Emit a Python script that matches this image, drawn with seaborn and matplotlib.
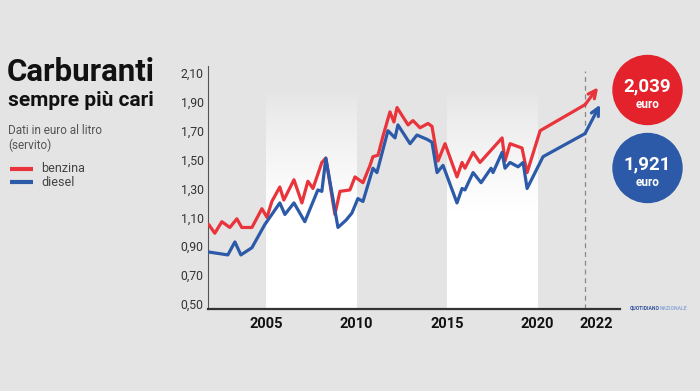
import numpy as np
import pandas as pd
import seaborn as sns
import matplotlib.pyplot as plt
from matplotlib.patches import Circle
from matplotlib.transforms import ScaledTranslation

# benzina (servito), euro/litro
anni_benzina = [2001.85, 2002.18, 2002.57, 2003.01, 2003.40, 2003.67, 2004.23, 2004.78,
                2005.06, 2005.33, 2005.77, 2005.99, 2006.55, 2006.99, 2007.32, 2007.60,
                2008.09, 2008.31, 2008.81, 2009.09, 2009.64, 2009.92, 2010.36, 2010.75,
                2010.91, 2011.19, 2011.46, 2011.85, 2012.07, 2012.24, 2012.85, 2013.12,
                2013.51, 2013.95, 2014.17, 2014.50, 2014.89, 2015.55, 2015.83, 2015.99,
                2016.44, 2016.82, 2018.04, 2018.20, 2018.48, 2019.14, 2019.42, 2020.14,
                2022.62, 2023.34]
benzina = [1.05, 0.99, 1.07, 1.03, 1.09, 1.03, 1.03, 1.16,
           1.10, 1.21, 1.31, 1.22, 1.36, 1.20, 1.35, 1.30,
           1.48, 1.51, 1.12, 1.28, 1.29, 1.38, 1.34, 1.46,
           1.52, 1.53, 1.66, 1.83, 1.76, 1.86, 1.74, 1.77,
           1.72, 1.75, 1.73, 1.49, 1.61, 1.38, 1.48, 1.44,
           1.55, 1.48, 1.65, 1.49, 1.61, 1.58, 1.41, 1.70,
           1.88, 2.00]

# diesel (servito), euro/litro
anni_diesel = [2001.85, 2002.90, 2003.29, 2003.62, 2004.23, 2004.94, 2005.77, 2006.05,
               2006.55, 2007.15, 2007.87, 2008.09, 2008.31, 2008.98, 2009.42, 2009.75,
               2010.08, 2010.36, 2010.91, 2011.13, 2011.74, 2012.13, 2012.29, 2012.96,
               2013.34, 2013.90, 2014.17, 2014.45, 2014.78, 2015.55, 2015.83, 2015.99,
               2016.44, 2016.88, 2017.43, 2017.54, 2018.04, 2018.20, 2018.48, 2018.92,
               2019.20, 2019.42, 2020.30, 2022.62, 2023.45]
diesel = [0.86, 0.84, 0.93, 0.84, 0.89, 1.05, 1.20, 1.12,
          1.20, 1.07, 1.29, 1.28, 1.51, 1.03, 1.08, 1.13,
          1.23, 1.21, 1.44, 1.41, 1.70, 1.65, 1.74, 1.61,
          1.67, 1.64, 1.62, 1.41, 1.46, 1.20, 1.30, 1.29,
          1.41, 1.34, 1.44, 1.41, 1.55, 1.44, 1.48, 1.45,
          1.48, 1.30, 1.52, 1.68, 1.88]

anni_tick = [2005, 2010, 2015, 2020, 2022.62]
etichette_anni = ['2005', '2010', '2015', '2020', '2022']
valori_tick = [0.50, 0.70, 0.90, 1.10, 1.30, 1.50, 1.70, 1.90, 2.10]
bande = [(2005, 2010), (2015, 2020)]
prezzo_oggi = ['2,039', '1,921']

ROSSO = '#e8343a'
BLU = '#2c5aa8'
SFONDO = '#e4e4e4'

sns.set_theme(style='white')
plt.rcParams['font.family'] = ['Roboto', 'DejaVu Sans']

df_b = pd.DataFrame({'anno': anni_benzina, 'prezzo': benzina})
df_d = pd.DataFrame({'anno': anni_diesel, 'prezzo': diesel})

fig = plt.figure(figsize=(7, 3.91), dpi=100, facecolor=SFONDO)
ax = fig.add_axes([0.297, 0.2095, 0.589, 0.6225])
ax.set_facecolor(SFONDO)

# white bands fading out towards the top
grad = np.ones((200, 1, 4))
yy = np.linspace(0.465, 2.15, 200)
grad[:, 0, 3] = np.clip((1.98 - yy) / (1.98 - 1.15), 0, 1) ** 0.8
for a, b in bande:
    ax.imshow(grad, extent=(a, b, 0.465, 2.15), origin='lower', aspect='auto',
              interpolation='bilinear', zorder=0)
ax.set_xlim(2001.8, 2024.56)
ax.set_ylim(0.465, 2.15)

ax.axvline(2022.62, ymin=0, ymax=0.98, color='#888888', lw=0.9, ls=(0, (4, 3)), zorder=1)

# lines up to second-to-last point, last segment as arrow
sns.lineplot(data=df_b.iloc[:-1], x='anno', y='prezzo', ax=ax, color=ROSSO, lw=2.3,
             sort=False, zorder=3)
sns.lineplot(data=df_d.iloc[:-1], x='anno', y='prezzo', ax=ax, color=BLU, lw=2.3,
             sort=False, zorder=3)
for df, col in [(df_b, ROSSO), (df_d, BLU)]:
    ax.annotate('', xy=(df.anno.iloc[-1], df.prezzo.iloc[-1]),
                xytext=(df.anno.iloc[-2], df.prezzo.iloc[-2]),
                arrowprops=dict(arrowstyle='->', color=col, lw=2.3, mutation_scale=14,
                                shrinkA=0, shrinkB=0), zorder=3)

ax.set_yticks(valori_tick)
ax.set_yticklabels([f'{v:.2f}'.replace('.', ',') for v in valori_tick],
                   fontsize=8.8, color='#333333')
ax.set_xticks(anni_tick)
ax.set_xticklabels(etichette_anni, fontsize=10.5, fontweight='bold', color='#111111')
ax.tick_params(axis='both', length=0, pad=3)
ax.tick_params(axis='x', pad=6)
lab = ax.get_xticklabels()[-1]
lab.set_transform(lab.get_transform() + ScaledTranslation(11 / 100, 0, fig.dpi_scale_trans))
ax.set_xlabel('')
ax.set_ylabel('')
for s in ['top', 'right']:
    ax.spines[s].set_visible(False)
ax.spines['left'].set_color('#555555')
ax.spines['left'].set_linewidth(0.8)
ax.spines['bottom'].set_color('#333333')
ax.spines['bottom'].set_linewidth(1.6)

# overlay in pixel coordinates for titles, legend and badges
ov = fig.add_axes([0, 0, 1, 1], facecolor='none')
ov.set_xlim(0, 700)
ov.set_ylim(391, 0)
ov.axis('off')

ov.text(7, 72, 'Carburanti', fontsize=22.5, fontweight='bold', color='#111111', va='center')
ov.text(8, 101, 'sempre più cari', fontsize=15, fontweight='bold', color='#111111', va='center')
ov.text(8, 130, 'Dati in euro al litro', fontsize=8.5, color='#555555', va='center')
ov.text(8, 145, '(servito)', fontsize=8.5, color='#555555', va='center')
ov.plot([10, 33], [169, 169], color=ROSSO, lw=3, solid_capstyle='butt')
ov.plot([10, 33], [182, 182], color=BLU, lw=3, solid_capstyle='butt')
ov.text(41, 168, 'benzina', fontsize=9, color='#444444', va='center')
ov.text(41, 182, 'diesel', fontsize=9, color='#444444', va='center')

for cy, col, val in [(90, '#e3222b', prezzo_oggi[0]), (168, BLU, prezzo_oggi[1])]:
    ov.add_patch(Circle((647.5, cy), 34.5, color=col, zorder=5))
    ov.text(647.5, cy - 4, val, fontsize=13.5, fontweight='bold', color='white',
            ha='center', va='center', zorder=6)
    ov.text(647.5, cy + 14, 'euro', fontsize=8.5, fontweight='bold', color='white',
            ha='center', va='center', zorder=6)

ov.text(630, 308, 'QUOTIDIANO', fontsize=3.6, fontweight='bold', color='#2c4f9a', va='center')
ov.text(660, 308, 'NAZIONALE', fontsize=3.6, fontweight='bold', color='#8ea6d6', va='center')

fig.savefig('out.png', dpi=100, facecolor=SFONDO)
